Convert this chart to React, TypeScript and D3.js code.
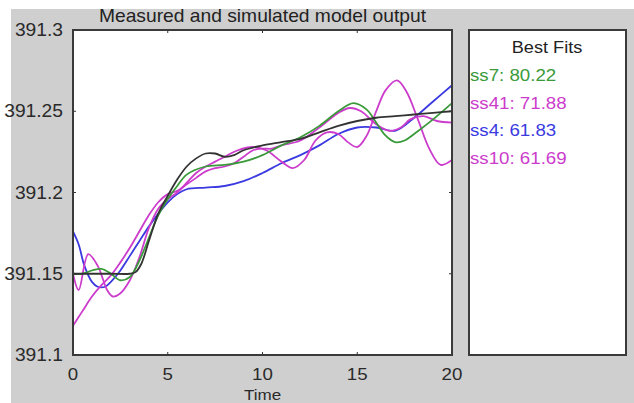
import React from 'react';
import * as d3 from 'd3';

// time / value pairs
const measured: [number, number][] = [
  [0, 391.15], [1, 391.15], [2, 391.15], [3, 391.15], [3.3, 391.151], [3.6, 391.156], [4, 391.17],
  [4.5, 391.187], [5, 391.198], [5.5, 391.208], [6, 391.216], [6.5, 391.221], [7, 391.224],
  [7.5, 391.224], [8, 391.222], [8.5, 391.223], [9, 391.226], [10, 391.229], [11, 391.231],
  [12, 391.233], [13, 391.237], [14, 391.241], [15, 391.244], [16, 391.246], [17, 391.247],
  [18, 391.248], [19, 391.249], [20, 391.25],
];
const ss7: [number, number][] = [
  [0, 391.15], [0.5, 391.15], [1, 391.152], [1.5, 391.153], [2, 391.15], [2.5, 391.146],
  [3, 391.148], [3.5, 391.158], [4, 391.172], [4.5, 391.186], [5, 391.196], [5.5, 391.204],
  [6, 391.211], [7, 391.216], [8, 391.217], [9, 391.219], [10, 391.223], [11, 391.229],
  [12, 391.234], [13, 391.241], [14, 391.25], [14.8, 391.255], [15.5, 391.251], [16, 391.243],
  [16.5, 391.235], [17, 391.231], [17.5, 391.232], [18, 391.236], [19, 391.245], [20, 391.255],
];
const ss41: [number, number][] = [
  [0, 391.118], [0.5, 391.127], [1, 391.136], [1.5, 391.143], [2, 391.149], [2.5, 391.157],
  [3, 391.166], [3.5, 391.176], [4, 391.186], [4.5, 391.194], [5, 391.199], [5.5, 391.201],
  [6, 391.205], [6.5, 391.209], [7, 391.213], [7.5, 391.215], [8, 391.216], [8.5, 391.218],
  [9, 391.222], [9.5, 391.226], [10, 391.227], [10.5, 391.227], [11, 391.229], [12, 391.232],
  [13, 391.24], [14, 391.249], [14.6, 391.252], [15.2, 391.25], [16, 391.242], [16.7, 391.238],
  [17.3, 391.24], [17.8, 391.245], [18.5, 391.247], [19.2, 391.244], [20, 391.243],
];
const ss4: [number, number][] = [
  [0, 391.176], [0.3, 391.168], [0.6, 391.155], [1, 391.145], [1.3, 391.142], [1.7, 391.142],
  [2, 391.145], [2.5, 391.152], [3, 391.161], [3.5, 391.17], [4, 391.179], [4.5, 391.187],
  [5, 391.194], [5.5, 391.199], [6, 391.202], [7, 391.203], [8, 391.204], [9, 391.207],
  [10, 391.212], [11, 391.218], [12, 391.223], [13, 391.229], [14, 391.236], [15, 391.24],
  [16, 391.24], [17, 391.238], [18, 391.246], [19, 391.256], [20, 391.266],
];
const ss10: [number, number][] = [
  [0, 391.15], [0.3, 391.14], [0.8, 391.162], [1.3, 391.155], [1.8, 391.14], [2.1, 391.136],
  [2.5, 391.138], [3, 391.146], [3.5, 391.16], [4, 391.178], [4.5, 391.19], [5, 391.196],
  [5.5, 391.2], [6, 391.206], [6.5, 391.212], [7, 391.216], [7.5, 391.219], [8, 391.222],
  [8.7, 391.226], [9.5, 391.228], [10.2, 391.226], [11, 391.219], [11.6, 391.215],
  [12.2, 391.22], [12.8, 391.232], [13.4, 391.237], [14, 391.236], [14.5, 391.231],
  [15, 391.228], [15.5, 391.235], [16, 391.25], [16.5, 391.263], [17.1, 391.269],
  [17.6, 391.262], [18.2, 391.245], [18.8, 391.227], [19.4, 391.217], [20, 391.22],
];

const xTicks = [0, 5, 10, 15, 20];
const yTicks = [391.1, 391.15, 391.2, 391.25, 391.3];
const fitNames = ['ss7', 'ss41', 'ss4', 'ss10'];
const fitScores = ['80.22', '71.88', '61.83', '61.69'];
const fitColors = ['#3a9a3a', '#cc3ccc', '#3a3ae0', '#cc3ccc'];

const FONT = '"Liberation Sans", Arial, sans-serif';

function T({ x, y, size = 16, anchor = 'start', fill = '#2a2a2a', children }: any) {
  // the reference looks slightly stretched sideways
  return (
    <g transform={`translate(${x},${y}) scale(1.1,1)`}>
      <text fontFamily={FONT} fontSize={size} textAnchor={anchor} fill={fill}>{children}</text>
    </g>
  );
}

export default function App() {
  const width = 634;
  const height = 403;
  const x = d3.scaleLinear().domain([0, 20]).range([73, 452]);
  const y = d3.scaleLinear().domain([391.1, 391.3]).range([355, 30]);
  const line = d3.line<[number, number]>()
    .x(d => x(d[0]))
    .y(d => y(d[1]))
    .curve(d3.curveCatmullRom.alpha(0.5));

  const series = [
    { data: ss4, color: fitColors[2] },
    { data: ss10, color: fitColors[3] },
    { data: ss41, color: fitColors[1] },
    { data: ss7, color: fitColors[0] },
    { data: measured, color: '#333333' },
  ];

  const [x0, x1] = x.range();
  const [y0, y1] = y.range();

  return (
    <div style={{ position: 'absolute', left: 0, top: 0 }}>
      <svg width={width} height={height}>
        <rect width={width} height={height} fill="#fff" />
        <rect x={11} y={9} width={width - 11} height={height - 9} fill="#cfcfcf" />

        <T x={(x0 + x1) / 2} y={22} size={17.5} anchor="middle" fill="#222">Measured and simulated model output</T>

        <rect x={x0} y={y1} width={x1 - x0} height={y0 - y1} fill="#fff" />
        <clipPath id="plot"><rect x={x0} y={y1} width={x1 - x0} height={y0 - y1} /></clipPath>
        <g clipPath="url(#plot)" fill="none" strokeWidth={1.8}>
          {series.map((s, i) => (
            <path key={i} d={line(s.data) || ''} stroke={s.color} strokeLinejoin="round" />
          ))}
        </g>

        {/* ticks inside the box */}
        <g stroke="#333" strokeWidth={1}>
          {xTicks.map(t => (
            <g key={t}>
              <line x1={x(t)} x2={x(t)} y1={y0} y2={y0 - 3} />
              <line x1={x(t)} x2={x(t)} y1={y1} y2={y1 + 3} />
            </g>
          ))}
          {yTicks.map(t => (
            <g key={t}>
              <line x1={x0} x2={x0 + 3} y1={y(t)} y2={y(t)} />
              <line x1={x1} x2={x1 - 3} y1={y(t)} y2={y(t)} />
            </g>
          ))}
        </g>
        <rect x={x0} y={y1} width={x1 - x0} height={y0 - y1} fill="none" stroke="#3a3a3a" strokeWidth={2} />

        {xTicks.map(t => (
          <T key={t} x={x(t)} y={380} size={17} anchor="middle">{t}</T>
        ))}
        {yTicks.map(t => (
          <T key={t} x={63} y={y(t) + 6} size={17.5} anchor="end">{d3.format('')(+t.toFixed(2))}</T>
        ))}
        <T x={(x0 + x1) / 2} y={400} size={15.5} anchor="middle">Time</T>

        {/* legend panel */}
        <rect x={469} y={y1} width={157} height={y0 - y1} fill="#fff" stroke="#3a3a3a" strokeWidth={2} />
        <T x={547} y={53} size={16.5} anchor="middle" fill="#222">Best Fits</T>
        {fitNames.map((n, i) => (
          <T key={n} x={470} y={81 + i * 27.5} size={17} fill={fitColors[i]}>{`${n}: ${fitScores[i]}`}</T>
        ))}
      </svg>
    </div>
  );
}
